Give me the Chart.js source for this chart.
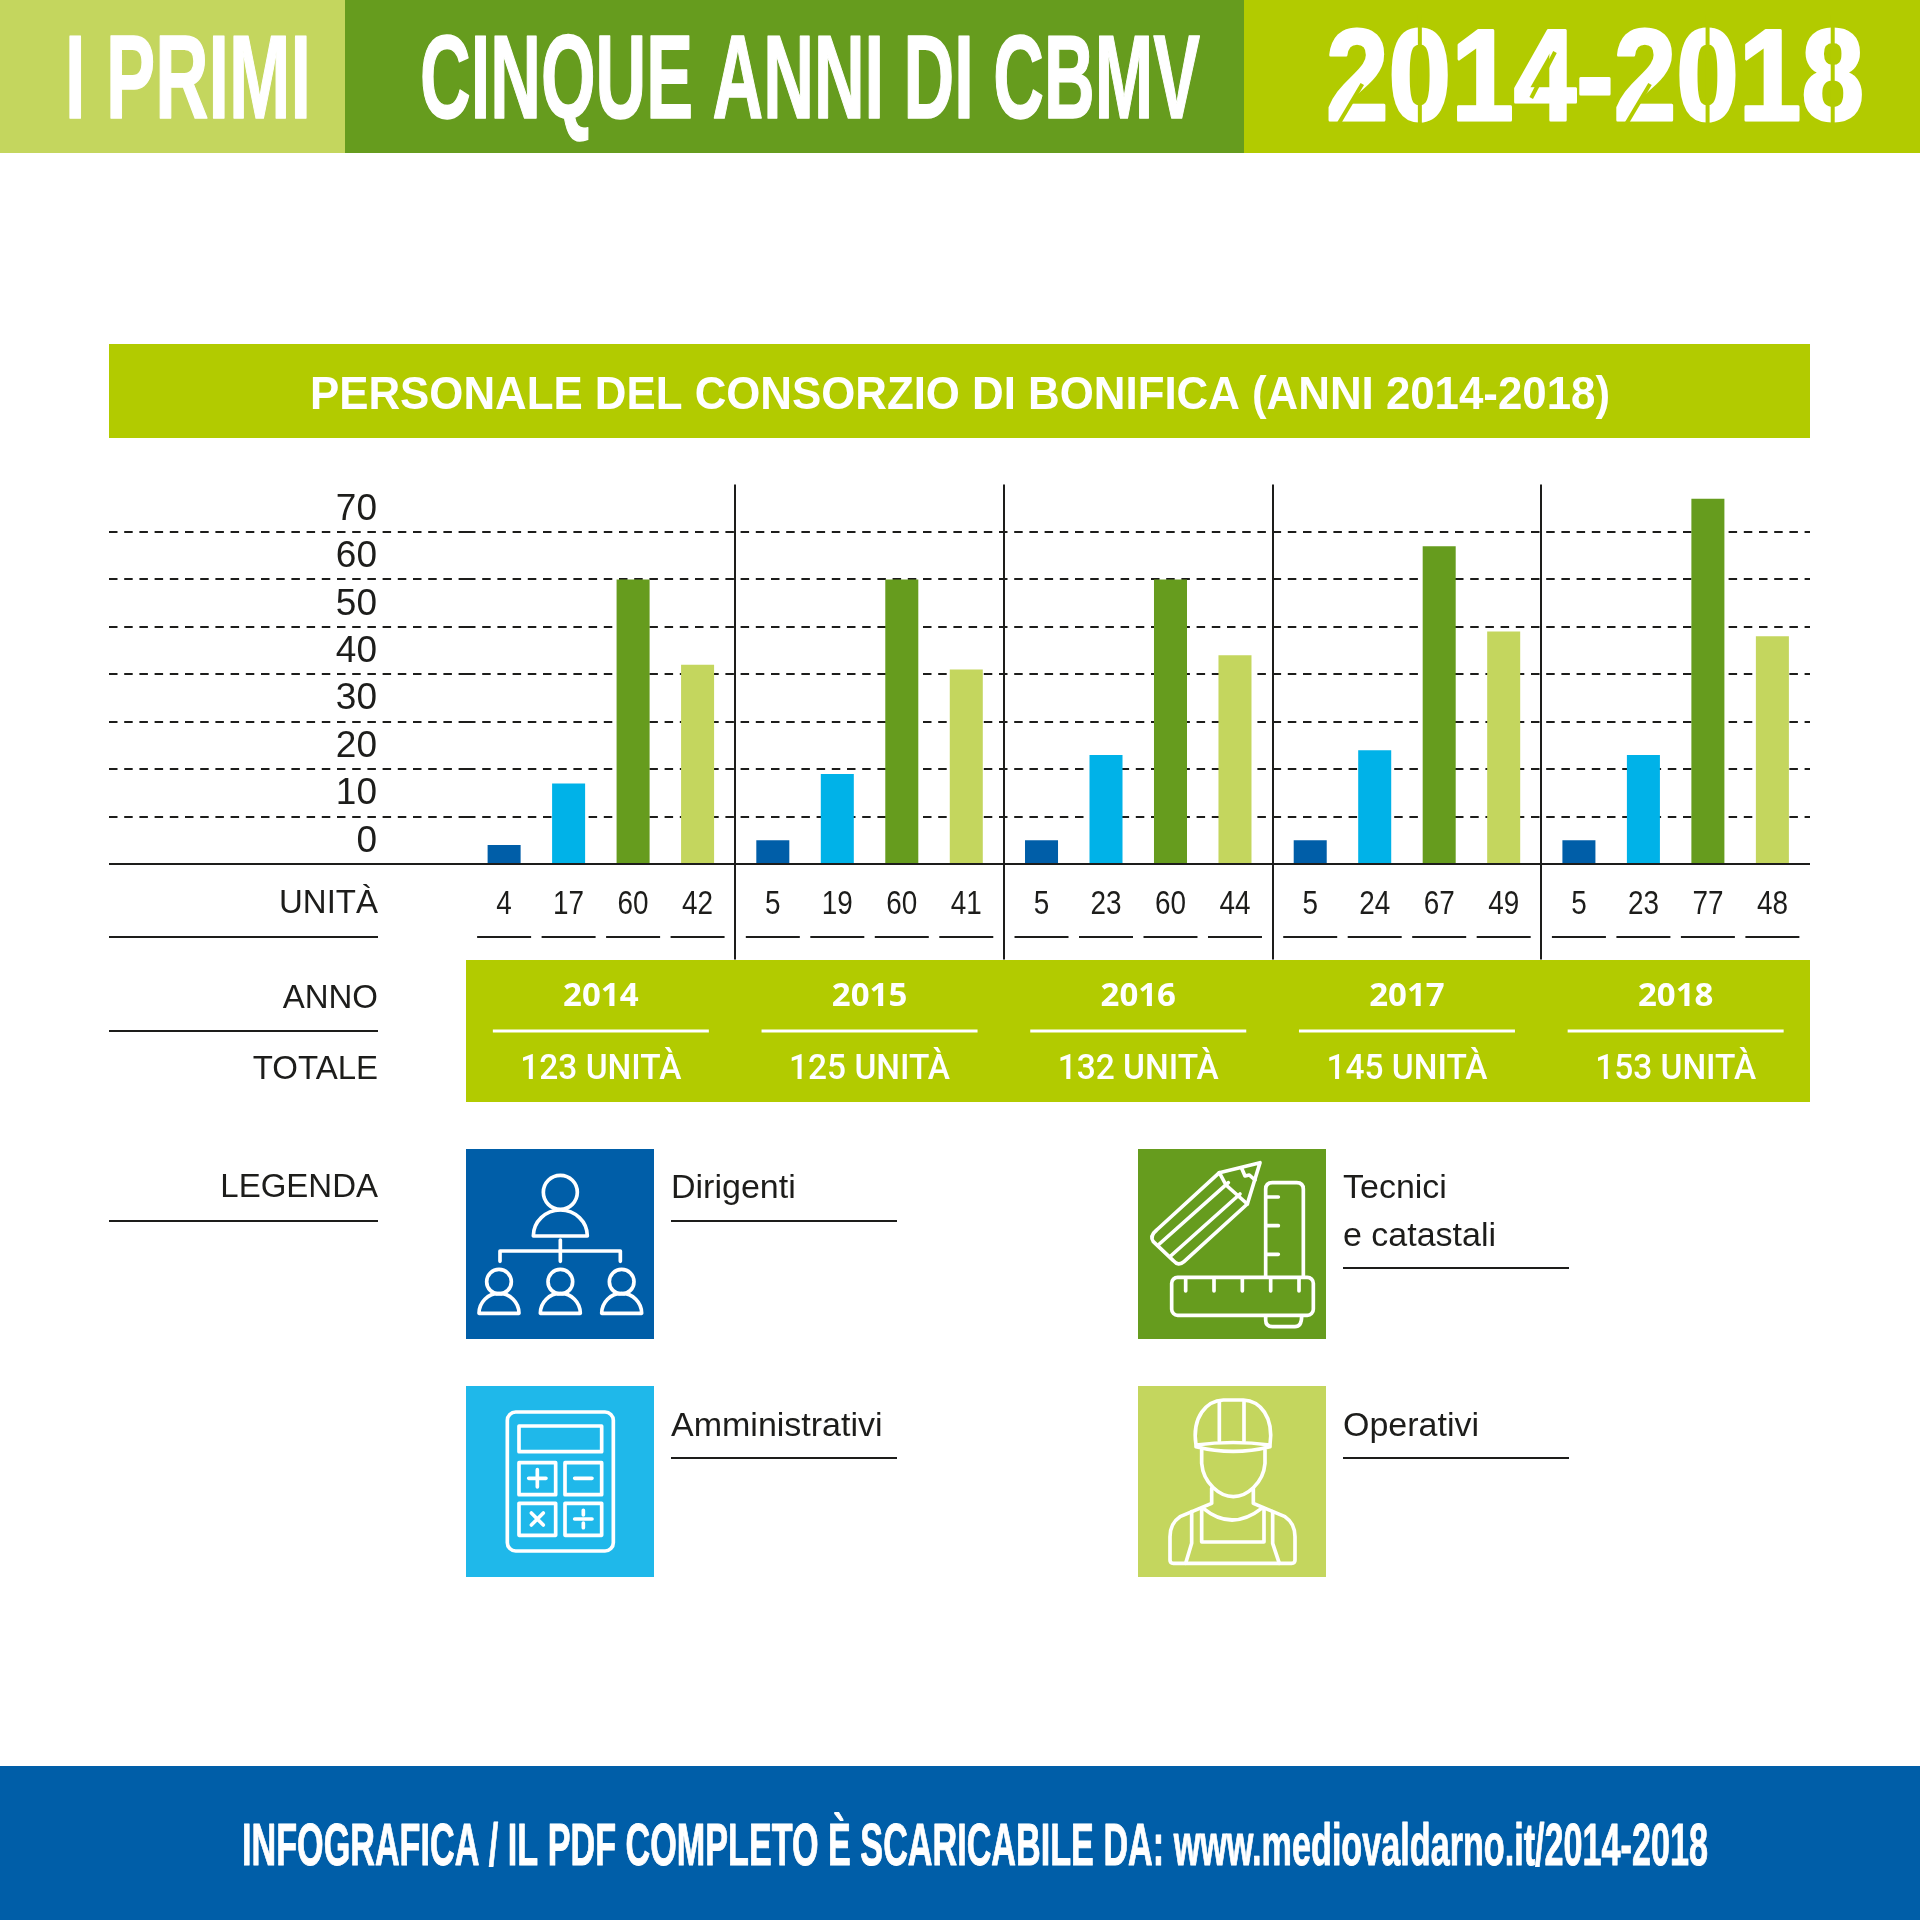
<!DOCTYPE html>
<html lang="it">
<head>
<meta charset="utf-8">
<title>I primi cinque anni di CBMV</title>
<script src="https://cdn.jsdelivr.net/npm/chart.js@4"></script>
<style>
  html, body { margin: 0; padding: 0; background: #fff; }
  canvas { display: block; }
</style>
</head>
<body>
<canvas id="personaleChart" width="1920" height="1920"></canvas>
<script>
const anni = ["2014", "2015", "2016", "2017", "2018"];
const dirigenti = [4, 5, 5, 5, 5];
const amministrativi = [17, 19, 23, 24, 23];
const tecnici = [60, 60, 60, 67, 77];
const operativi = [42, 41, 44, 49, 48];
const totali = ["123 UNITÀ", "125 UNITÀ", "132 UNITÀ", "145 UNITÀ", "153 UNITÀ"];
const tickValori = [0, 10, 20, 30, 40, 50, 60, 70];
const serieNomi = ["Dirigenti", "Amministrativi", "Tecnici e catastali", "Operativi"];

const BLU = "#005ea8";
const AZZURRO = "#00b2e8";
const AZZURRO_TILE = "#1fb8ea";
const VERDE = "#669c1e";
const CHIARO = "#c4d65e";
const LIME = "#b2cb00";
const NERO = "#1d1d1b";

const SANS = '"Liberation Sans", Arial, sans-serif';
const NARROW = '"Liberation Sans Narrow", "Liberation Sans", sans-serif';

function testo(ctx, str, x, y, font, color, align, maxW, spessore) {
    ctx.font = font;
    ctx.fillStyle = color;
    ctx.textAlign = align || "left";
    ctx.textBaseline = "alphabetic";
    if (maxW) ctx.fillText(str, x, y, maxW);
    else ctx.fillText(str, x, y);
    if (spessore) {
        ctx.strokeStyle = color;
        ctx.lineWidth = spessore;
        ctx.lineJoin = "round";
        if (maxW) ctx.strokeText(str, x, y, maxW);
        else ctx.strokeText(str, x, y);
    }
}

function linea(ctx, x1, y1, x2, y2, color, w) {
    ctx.strokeStyle = color;
    ctx.lineWidth = w;
    ctx.beginPath();
    ctx.moveTo(x1, y1);
    ctx.lineTo(x2, y2);
    ctx.stroke();
}

function segmenti(ctx, list) {
    ctx.beginPath();
    list.forEach(s => {
        ctx.moveTo(s[0], s[1]);
        for (let i = 2; i < s.length; i += 2) ctx.lineTo(s[i], s[i + 1]);
    });
    ctx.stroke();
}

// Tagli dello stencil sulle cifre della testata
function stencil(ctx, str, x, base, font, maxW, color) {
    ctx.font = font;
    const k = Math.min(1, maxW / ctx.measureText(str).width);
    for (let i = 0; i < str.length; i++) {
        const x0 = x + ctx.measureText(str.slice(0, i)).width * k;
        const w = ctx.measureText(str[i]).width * k;
        if (str[i] === "0" || str[i] === "8") {
            linea(ctx, x0 + w / 2, base - 105, x0 + w / 2, base + 6, color, 4);
        } else if (str[i] === "2") {
            linea(ctx, x0 + w * 0.18, base + 6, x0 + w * 0.58, base - 36, color, 4);
        } else if (str[i] === "4") {
            linea(ctx, x0 + w * 0.28, base - 22, x0 + w * 0.66, base - 68, color, 4);
        }
    }
}

// Icone: coordinate in unita' di 1/3 di pixel rispetto all'origine passata
function icona(ctx, ox, oy, disegna) {
    ctx.save();
    ctx.translate(ox, oy);
    ctx.scale(1 / 3, 1 / 3);
    ctx.strokeStyle = "#fff";
    ctx.lineWidth = 11;
    ctx.lineJoin = "round";
    ctx.lineCap = "round";
    disegna(ctx);
    ctx.restore();
}

function persona(ctx, cx, cy, r, by, rx, ry) {
    ctx.beginPath();
    ctx.arc(cx, cy, r, 0, Math.PI * 2);
    ctx.stroke();
    ctx.beginPath();
    ctx.ellipse(cx, by, rx, ry, 0, Math.PI, Math.PI * 2);
    ctx.closePath();
    ctx.stroke();
}

function iconaDirigenti(ctx) {
    persona(ctx, 331, 187, 51, 318, 81, 78);
    segmenti(ctx, [[331, 330, 331, 394], [150, 394, 150, 363, 511, 363, 511, 394]]);
    [147, 331, 515].forEach(x => persona(ctx, x, 455, 37, 550, 60, 60));
}

function iconaAmministrativi(ctx) {
    ctx.beginPath();
    ctx.roundRect(172, 846, 318, 417, 25);
    ctx.stroke();
    ctx.strokeRect(207, 888, 248, 77);
    [[207, 998], [345, 998], [207, 1120], [345, 1120]].forEach(p => ctx.strokeRect(p[0], p[1], 110, 96));
    segmenti(ctx, [
        [236, 1045, 288, 1045], [262, 1019, 262, 1071],
        [374, 1045, 426, 1045],
        [244, 1149, 280, 1185], [280, 1149, 244, 1185],
        [374, 1167, 426, 1167], [400, 1141, 400, 1155], [400, 1179, 400, 1193]
    ]);
}

function iconaTecnici(ctx) {
    ctx.beginPath();
    ctx.moveTo(110, 300);
    ctx.lineTo(298, 128);
    ctx.lineTo(420, 98);
    ctx.lineTo(382, 222);
    ctx.lineTo(192, 395);
    ctx.quadraticCurveTo(175, 410, 160, 392);
    ctx.lineTo(100, 335);
    ctx.quadraticCurveTo(88, 318, 110, 300);
    ctx.stroke();
    segmenti(ctx, [
        [118, 342, 325, 158], [152, 378, 360, 192],
        [298, 128, 318, 165, 382, 222],
        [365, 115, 375, 138, 388, 135, 405, 150]
    ]);
    ctx.beginPath();
    ctx.moveTo(437, 440);
    ctx.lineTo(437, 178);
    ctx.quadraticCurveTo(437, 158, 457, 158);
    ctx.lineTo(530, 158);
    ctx.quadraticCurveTo(550, 158, 550, 178);
    ctx.lineTo(550, 440);
    ctx.moveTo(437, 558);
    ctx.lineTo(437, 570);
    ctx.quadraticCurveTo(437, 590, 457, 590);
    ctx.lineTo(525, 590);
    ctx.quadraticCurveTo(545, 590, 545, 558);
    ctx.stroke();
    ctx.beginPath();
    ctx.roundRect(155, 442, 425, 114, 18);
    ctx.stroke();
    segmenti(ctx, [
        [440, 201, 475, 201], [440, 287, 475, 287], [440, 373, 475, 373],
        [197, 445, 197, 483], [282, 445, 282, 483], [367, 445, 367, 483],
        [452, 445, 452, 483], [537, 445, 537, 483]
    ]);
}

function iconaOperativi(ctx) {
    ctx.beginPath();
    ctx.moveTo(228, 945);
    ctx.bezierCurveTo(215, 860, 260, 812, 310, 810);
    ctx.lineTo(370, 810);
    ctx.bezierCurveTo(420, 812, 462, 860, 450, 945);
    ctx.quadraticCurveTo(340, 930, 228, 945);
    ctx.lineTo(228, 950);
    ctx.quadraticCurveTo(340, 978, 450, 950);
    ctx.lineTo(450, 945);
    ctx.stroke();
    segmenti(ctx, [[298, 815, 298, 932], [372, 815, 372, 932]]);
    ctx.beginPath();
    ctx.moveTo(245, 960);
    ctx.lineTo(245, 1000);
    ctx.bezierCurveTo(250, 1060, 300, 1100, 340, 1100);
    ctx.bezierCurveTo(380, 1100, 430, 1060, 435, 1000);
    ctx.lineTo(435, 960);
    ctx.moveTo(275, 1075);
    ctx.lineTo(275, 1120);
    ctx.moveTo(400, 1075);
    ctx.lineTo(400, 1120);
    ctx.moveTo(250, 1135);
    ctx.quadraticCurveTo(335, 1205, 425, 1135);
    ctx.moveTo(275, 1120);
    ctx.lineTo(180, 1160);
    ctx.quadraticCurveTo(150, 1180, 150, 1220);
    ctx.lineTo(150, 1290);
    ctx.quadraticCurveTo(150, 1300, 160, 1300);
    ctx.lineTo(515, 1300);
    ctx.quadraticCurveTo(525, 1300, 525, 1290);
    ctx.lineTo(525, 1220);
    ctx.quadraticCurveTo(525, 1180, 495, 1160);
    ctx.lineTo(400, 1120);
    ctx.stroke();
    segmenti(ctx, [
        [245, 1138, 245, 1236, 432, 1236, 432, 1138],
        [215, 1145, 215, 1240, 197, 1300],
        [458, 1145, 458, 1240, 478, 1300]
    ]);
}

// Tutto cio' che sta fuori dagli assi: fasce, testate, legenda
const sfondoPlugin = {
    id: "sfondo",
    beforeDraw(chart) {
        const ctx = chart.ctx;
        ctx.save();
        ctx.fillStyle = "#fff";
        ctx.fillRect(0, 0, 1920, 1920);

        // Testata
        ctx.fillStyle = CHIARO;
        ctx.fillRect(0, 0, 345, 153);
        ctx.fillStyle = VERDE;
        ctx.fillRect(345, 0, 899, 153);
        ctx.fillStyle = LIME;
        ctx.fillRect(1244, 0, 676, 153);
        testo(ctx, "I PRIMI", 65, 118, "bold 118px " + NARROW, "#fff", "left", 246, 1.5);
        testo(ctx, "CINQUE ANNI DI CBMV", 420, 118, "bold 118px " + NARROW, "#fff", "left", 780, 1.5);
        const fontAnni = "bold 130px " + SANS;
        testo(ctx, "2014-2018", 1326, 120, fontAnni, "#fff", "left", 538, 3);
        stencil(ctx, "2014-2018", 1326, 120, fontAnni, 538, LIME);

        // Titolo del grafico
        ctx.fillStyle = LIME;
        ctx.fillRect(109, 344, 1701, 94);
        testo(ctx, "PERSONALE DEL CONSORZIO DI BONIFICA (ANNI 2014-2018)", 960, 409, "bold 47px " + SANS, "#fff", "center", 1300);

        // Fascia anni
        ctx.fillStyle = LIME;
        ctx.fillRect(466, 960, 1344, 142);

        // Piede
        ctx.fillStyle = BLU;
        ctx.fillRect(0, 1766, 1920, 154);
        testo(ctx, "INFOGRAFICA / IL PDF COMPLETO È SCARICABILE DA: www.mediovaldarno.it/2014-2018", 975, 1865, "bold 60px " + NARROW, "#fff", "center", 1466, 1);

        // Etichette a sinistra
        const etichetta = "33px " + SANS;
        testo(ctx, "UNITÀ", 378, 913, etichetta, NERO, "right");
        testo(ctx, "ANNO", 378, 1008, etichetta, NERO, "right");
        testo(ctx, "TOTALE", 378, 1079, etichetta, NERO, "right");
        testo(ctx, "LEGENDA", 378, 1197, etichetta, NERO, "right");
        linea(ctx, 109, 937, 378, 937, NERO, 2);
        linea(ctx, 109, 1031, 378, 1031, NERO, 2);
        linea(ctx, 109, 1221, 378, 1221, NERO, 2);

        // Legenda
        ctx.fillStyle = BLU;
        ctx.fillRect(466, 1149, 188, 190);
        ctx.fillStyle = AZZURRO_TILE;
        ctx.fillRect(466, 1386, 188, 191);
        ctx.fillStyle = VERDE;
        ctx.fillRect(1138, 1149, 188, 190);
        ctx.fillStyle = CHIARO;
        ctx.fillRect(1138, 1386, 188, 191);
        icona(ctx, 450, 1130, iconaDirigenti);
        icona(ctx, 450, 1130, iconaAmministrativi);
        icona(ctx, 1120, 1130, iconaTecnici);
        icona(ctx, 1120, 1130, iconaOperativi);

        const legenda = "34px " + SANS;
        testo(ctx, serieNomi[0], 671, 1198, legenda, NERO);
        testo(ctx, serieNomi[1], 671, 1436, legenda, NERO);
        testo(ctx, "Tecnici", 1343, 1198, legenda, NERO);
        testo(ctx, "e catastali", 1343, 1246, legenda, NERO);
        testo(ctx, serieNomi[3], 1343, 1436, legenda, NERO);
        linea(ctx, 671, 1221, 897, 1221, NERO, 2);
        linea(ctx, 671, 1458, 897, 1458, NERO, 2);
        linea(ctx, 1343, 1268, 1569, 1268, NERO, 2);
        linea(ctx, 1343, 1458, 1569, 1458, NERO, 2);
        ctx.restore();
    },
    afterDraw(chart) {
        const ctx = chart.ctx;
        const x = chart.scales.x;
        const y = chart.scales.y;
        ctx.save();

        // Linea dello zero
        linea(ctx, 109, y.getPixelForValue(0), 1810, y.getPixelForValue(0), NERO, 2);

        // Valori sotto le barre
        chart.data.datasets.forEach((ds, i) => {
            chart.getDatasetMeta(i).data.forEach((bar, j) => {
                const str = String(ds.data[j]);
                ctx.font = "34px " + SANS;
                testo(ctx, str, bar.x, 914, "34px " + SANS, NERO, "center", ctx.measureText(str).width * 0.82);
                linea(ctx, bar.x - 27, 937, bar.x + 27, 937, NERO, 2);
            });
        });

        // Totali per anno
        totali.forEach((t, j) => {
            const cx = x.getPixelForValue(j);
            linea(ctx, cx - 108, 1031, cx + 108, 1031, "#fff", 3);
            testo(ctx, t, cx, 1079, '500 35px Roboto, ' + SANS, "#fff", "center", 161);
        });
        ctx.restore();
    }
};

function serie(label, data, color) {
    return {
        label: label,
        data: data,
        backgroundColor: color,
        borderWidth: 0,
        categoryPercentage: 0.96,
        barPercentage: 0.512
    };
}

document.addEventListener("DOMContentLoaded", function () {
    const griglia = ctx => (tickValori.includes(ctx.tick.value) && ctx.tick.value > 0 ? NERO : "rgba(0,0,0,0)");
    const separatore = ctx => (ctx.index > 0 ? NERO : "rgba(0,0,0,0)");

    new Chart(document.getElementById("personaleChart"), {
        type: "bar",
        data: {
            labels: anni,
            datasets: [
                serie(serieNomi[0], dirigenti, BLU),
                serie(serieNomi[1], amministrativi, AZZURRO),
                serie(serieNomi[2], tecnici, VERDE),
                serie(serieNomi[3], operativi, CHIARO)
            ]
        },
        plugins: [sfondoPlugin],
        options: {
            responsive: false,
            animation: false,
            devicePixelRatio: 1,
            layout: { padding: { top: 484.6, right: 110, left: 0, bottom: 0 } },
            plugins: {
                legend: { display: false },
                tooltip: { enabled: false },
                title: { display: false }
            },
            scales: {
                x: {
                    afterFit(scale) { scale.height = 1056; },
                    border: { display: false },
                    grid: {
                        offset: true,
                        lineWidth: 2,
                        tickLength: 95.5,
                        tickWidth: 2,
                        color: separatore,
                        tickColor: separatore
                    },
                    ticks: {
                        autoSkip: false,
                        maxRotation: 0,
                        padding: 17,
                        color: "#fff",
                        font: { family: '"Open Sans", sans-serif', size: 33, weight: "bold" }
                    }
                },
                y: {
                    min: 0,
                    max: 80,
                    afterFit(scale) { scale.width = 466.5; },
                    border: { display: false, dash: [8.5, 6.7] },
                    grid: {
                        lineWidth: 2,
                        tickWidth: 2,
                        tickLength: 357.5,
                        tickBorderDash: [8.5, 6.7],
                        color: griglia,
                        tickColor: griglia
                    },
                    ticks: {
                        stepSize: 10,
                        autoSkip: false,
                        padding: -268,
                        color: NERO,
                        font: { family: SANS, size: 37, lineHeight: "45px" },
                        callback: v => (tickValori.includes(v) ? [String(v), ""] : "")
                    }
                }
            }
        }
    });
});
</script>
</body>
</html>
